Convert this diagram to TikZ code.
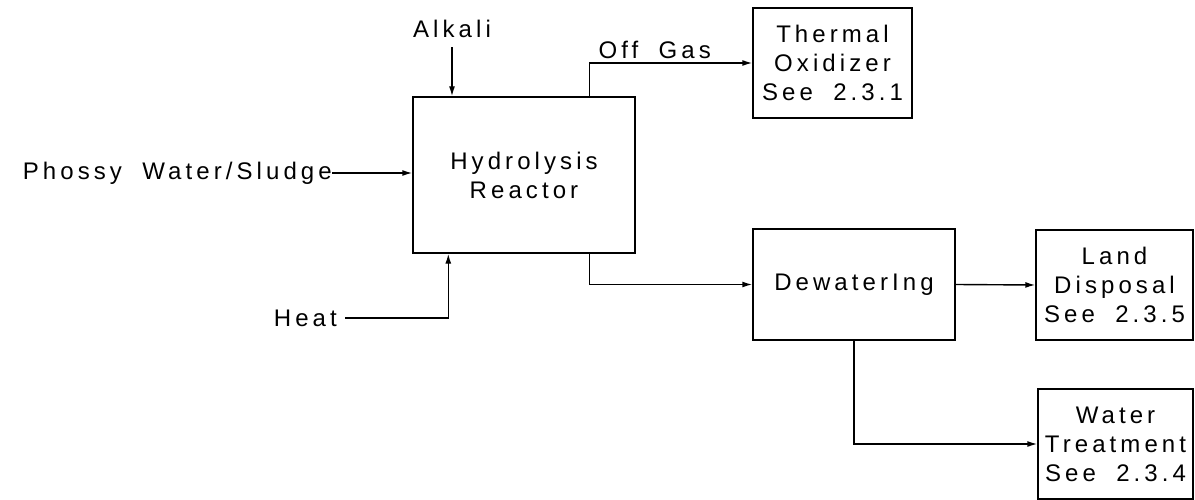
\documentclass[tikz,border=0pt]{standalone}
\usepackage{fontspec}
\setmainfont{Liberation Sans}[LetterSpace=17, WordSpace=1.9]
\usetikzlibrary{arrows.meta}
\tikzset{
  unit/.style={draw, line width=1.4pt, align=center, inner sep=2pt},
  stream/.style={inner sep=0pt},
  flow/.style={-{Latex[length=10pt,width=6pt]}, line width=1.4pt}
}

\begin{document}
\begin{tikzpicture}[x=1pt, y=-1pt, every node/.style={font=\fontsize{24}{29}\selectfont}]
	\useasboundingbox (0,0) rectangle (1195,500);
	% process units
	\node[unit, minimum width=222pt, minimum height=156pt] (reactor) at (524,175) {Hydrolysis\\Reactor};
	\node[unit, minimum width=159pt, minimum height=110pt] (thermal) at (832.5,63) {Thermal\\Oxidizer\\See 2.3.1};
	\node[unit, minimum width=202pt, minimum height=111pt] (dewater) at (854,284.5) {DewaterIng};
	\node[unit, minimum width=157pt, minimum height=110pt] (land) at (1114.5,285) {Land\\Disposal\\See 2.3.5};
	\node[unit, minimum width=155pt, minimum height=110pt] (water) at (1115.5,444) {Water\\Treatment\\See 2.3.4};
	% feed streams
	\node[stream, anchor=east] (phossy) at (332,173) {Phossy Water/Sludge};
	\node[stream, inner sep=5pt] (alkali) at (452,29) {Alkali};
	\node[stream, anchor=east] (heat) at (337,318) {Heat};
	\draw[flow] (phossy.east) -- (phossy.east -| reactor.west);
	\draw[flow, shorten <=4pt] (alkali.south) -- (alkali.south |- reactor.north);
	\draw[flow] ([xshift=8pt]heat.east) -| ([xshift=36pt]reactor.south west);
	% products
	\draw[flow] ([xshift=-46pt]reactor.north east) |- node[stream, pos=0.7, above, inner sep=4pt] {Off Gas} (thermal.west);
	\draw[flow] ([xshift=-46pt]reactor.south east) |- (dewater.west);
	\draw[flow] (dewater.east) -- (land.west);
	\draw[flow] (dewater.south) |- (water.west);
\end{tikzpicture}
\end{document}
